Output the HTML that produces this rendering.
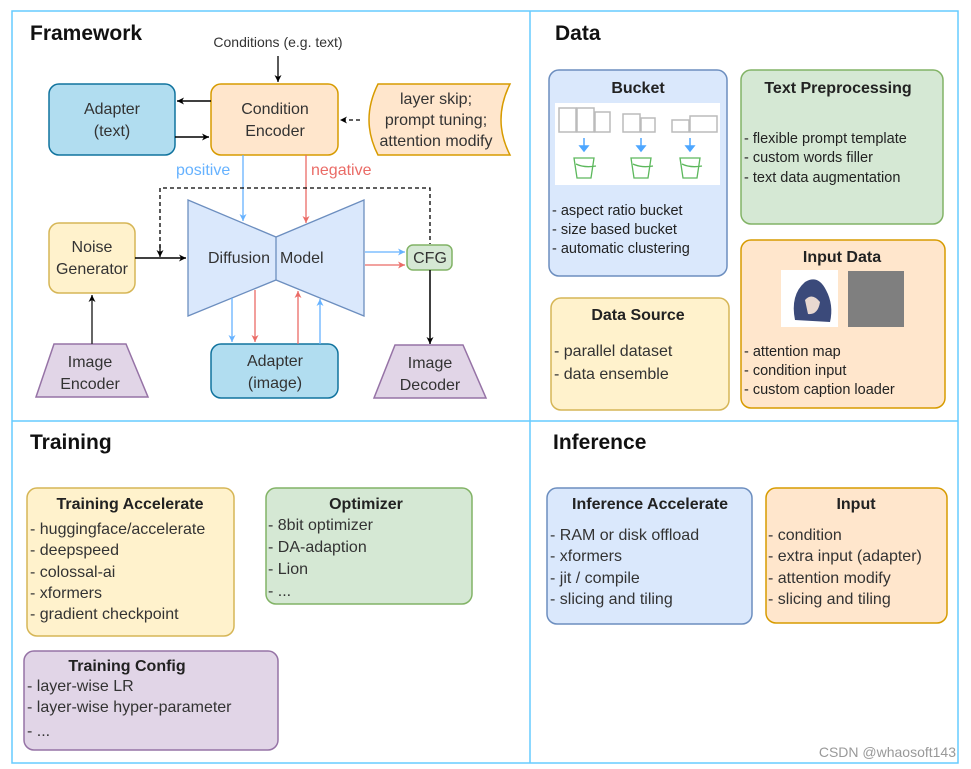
<!DOCTYPE html>
<html><head><meta charset="utf-8"><style>
html,body{margin:0;padding:0;background:#fff;}
svg{display:block;font-family:"Liberation Sans",sans-serif;}
.t{font-size:16px;fill:#333;}
.s{font-size:14.5px;fill:#222;}
.h{font-size:16px;font-weight:bold;fill:#222;}
.big{font-size:21px;font-weight:bold;fill:#111;}
</style></head><body>
<svg width="971" height="769" viewBox="0 0 971 769">
<defs>
<marker id="ak" markerWidth="8" markerHeight="8" refX="7" refY="4" orient="auto" markerUnits="userSpaceOnUse"><path d="M0,0.5 L7,4 L0,7.5 L2,4z" fill="#000"/></marker>
<marker id="ab" markerWidth="8" markerHeight="8" refX="7" refY="4" orient="auto" markerUnits="userSpaceOnUse"><path d="M0,0.5 L7,4 L0,7.5 L2,4z" fill="#66b2ff"/></marker>
<marker id="ar" markerWidth="8" markerHeight="8" refX="7" refY="4" orient="auto" markerUnits="userSpaceOnUse"><path d="M0,0.5 L7,4 L0,7.5 L2,4z" fill="#ea6b66"/></marker>
</defs>
<!-- frame -->
<rect x="12" y="11" width="946" height="752" fill="none" stroke="#66ccff" stroke-width="1.5"/>
<line x1="530" y1="11" x2="530" y2="763" stroke="#66ccff" stroke-width="1.5"/>
<line x1="12" y1="421" x2="958" y2="421" stroke="#66ccff" stroke-width="1.5"/>

<!-- Framework -->
<text x="30" y="40" class="big">Framework</text>
<text x="278" y="47" text-anchor="middle" style="font-size:14px;fill:#333">Conditions (e.g. text)</text>
<line x1="278" y1="56" x2="278" y2="82" stroke="#000" stroke-width="1.3" marker-end="url(#ak)"/>
<rect x="49" y="84" width="126" height="71" rx="10" fill="#b1ddf0" stroke="#10739e" stroke-width="1.5"/>
<text x="112" y="114" text-anchor="middle" class="t">Adapter</text>
<text x="112" y="136" text-anchor="middle" class="t">(text)</text>
<rect x="211" y="84" width="127" height="71" rx="10" fill="#ffe6cc" stroke="#d79b00" stroke-width="1.5"/>
<text x="275" y="114" text-anchor="middle" class="t">Condition</text>
<text x="275" y="136" text-anchor="middle" class="t">Encoder</text>
<path d="M378,84 L510,84 Q492,120 510,155 L378,155 Q360,120 378,84z" fill="#ffe6cc" stroke="#d79b00" stroke-width="1.5"/>
<text x="436" y="104" text-anchor="middle" class="t">layer skip;</text>
<text x="436" y="125" text-anchor="middle" class="t">prompt tuning;</text>
<text x="436" y="146" text-anchor="middle" class="t">attention modify</text>
<line x1="360" y1="120" x2="340" y2="120" stroke="#000" stroke-width="1.3" stroke-dasharray="4,3" marker-end="url(#ak)"/>
<line x1="211" y1="101" x2="177" y2="101" stroke="#000" stroke-width="1.5" marker-end="url(#ak)"/>
<line x1="175" y1="137" x2="209" y2="137" stroke="#000" stroke-width="1.5" marker-end="url(#ak)"/>
<text x="176" y="175" style="font-size:16px;fill:#66b2ff">positive</text>
<text x="311" y="175" style="font-size:16px;fill:#ea6b66">negative</text>
<line x1="243" y1="155" x2="243" y2="221" stroke="#66b2ff" stroke-width="1.3" marker-end="url(#ab)"/>
<line x1="306" y1="155" x2="306" y2="223" stroke="#ea6b66" stroke-width="1.3" marker-end="url(#ar)"/>
<path d="M160,255 L160,188 L430,188 L430,244" fill="none" stroke="#000" stroke-width="1.3" stroke-dasharray="4,3"/>
<line x1="160" y1="245" x2="160" y2="257" stroke="#000" stroke-width="1.3" marker-end="url(#ak)"/>
<path d="M188,200 L276,237 L364,200 L364,316 L276,280 L188,316z" fill="#dae8fc" stroke="#6c8ebf" stroke-width="1.3"/>
<line x1="276" y1="237" x2="276" y2="280" stroke="#6c8ebf" stroke-width="1.3"/>
<text x="208" y="263" class="t">Diffusion</text>
<text x="280" y="263" class="t">Model</text>
<rect x="49" y="223" width="86" height="70" rx="10" fill="#fff2cc" stroke="#d6b656" stroke-width="1.5"/>
<text x="92" y="252" text-anchor="middle" class="t">Noise</text>
<text x="92" y="274" text-anchor="middle" class="t">Generator</text>
<line x1="135" y1="258" x2="186" y2="258" stroke="#000" stroke-width="1.5" marker-end="url(#ak)"/>
<rect x="407" y="245" width="45" height="25" rx="6" fill="#d5e8d4" stroke="#82b366" stroke-width="1.5"/>
<text x="430" y="263" text-anchor="middle" class="t">CFG</text>
<line x1="365" y1="252" x2="405" y2="252" stroke="#66b2ff" stroke-width="1.3" marker-end="url(#ab)"/>
<line x1="365" y1="265" x2="405" y2="265" stroke="#ea6b66" stroke-width="1.3" marker-end="url(#ar)"/>
<line x1="430" y1="270" x2="430" y2="344" stroke="#000" stroke-width="1.5" marker-end="url(#ak)"/>
<path d="M395,345 L463,345 L486,398 L374,398z" fill="#e1d5e7" stroke="#9673a6" stroke-width="1.5"/>
<text x="430" y="368" text-anchor="middle" class="t">Image</text>
<text x="430" y="390" text-anchor="middle" class="t">Decoder</text>
<path d="M54,344 L126,344 L148,397 L36,397z" fill="#e1d5e7" stroke="#9673a6" stroke-width="1.5"/>
<text x="90" y="367" text-anchor="middle" class="t">Image</text>
<text x="90" y="389" text-anchor="middle" class="t">Encoder</text>
<line x1="92" y1="344" x2="92" y2="295" stroke="#333" stroke-width="1.5" marker-end="url(#ak)"/>
<rect x="211" y="344" width="127" height="54" rx="10" fill="#b1ddf0" stroke="#10739e" stroke-width="1.5"/>
<text x="275" y="366" text-anchor="middle" class="t">Adapter</text>
<text x="275" y="388" text-anchor="middle" class="t">(image)</text>
<line x1="232" y1="298" x2="232" y2="342" stroke="#66b2ff" stroke-width="1.3" marker-end="url(#ab)"/>
<line x1="255" y1="290" x2="255" y2="342" stroke="#ea6b66" stroke-width="1.3" marker-end="url(#ar)"/>
<line x1="298" y1="344" x2="298" y2="291" stroke="#ea6b66" stroke-width="1.3" marker-end="url(#ar)"/>
<line x1="320" y1="344" x2="320" y2="299" stroke="#66b2ff" stroke-width="1.3" marker-end="url(#ab)"/>

<!-- Data -->
<text x="555" y="40" class="big">Data</text>
<rect x="549" y="70" width="178" height="206" rx="10" fill="#dae8fc" stroke="#6c8ebf" stroke-width="1.5"/>
<text x="638" y="93" text-anchor="middle" class="h">Bucket</text>
<rect x="555" y="103" width="165" height="82" fill="#fff"/>
<g fill="none" stroke="#bbb" stroke-width="1.5">
<rect x="559" y="108" width="17" height="24"/><rect x="577" y="108" width="17" height="24"/><rect x="595" y="112" width="15" height="20"/>
<rect x="623" y="114" width="17" height="18"/><rect x="641" y="118" width="14" height="14"/>
<rect x="672" y="120" width="17" height="12"/><rect x="690" y="116" width="27" height="16"/>
</g>
<g stroke="#4da6ff" stroke-width="1.5" fill="#4da6ff">
<line x1="584" y1="138" x2="584" y2="148"/><path d="M580,146 L588,146 L584,151z"/>
<line x1="641" y1="138" x2="641" y2="148"/><path d="M637,146 L645,146 L641,151z"/>
<line x1="690" y1="138" x2="690" y2="148"/><path d="M686,146 L694,146 L690,151z"/>
</g>
<g fill="none" stroke="#5cb85c" stroke-width="1.3">
<path d="M574,158 L594,158 L591,178 L577,178z"/><path d="M576,164 Q584,168 596,166"/>
<path d="M631,158 L651,158 L648,178 L634,178z"/><path d="M633,164 Q641,168 653,166"/>
<path d="M680,158 L700,158 L697,178 L683,178z"/><path d="M682,164 Q690,168 702,166"/>
</g>
<text x="552" y="215" class="s">- aspect ratio bucket</text>
<text x="552" y="234" class="s">- size based bucket</text>
<text x="552" y="253" class="s">- automatic clustering</text>

<rect x="741" y="70" width="202" height="154" rx="10" fill="#d5e8d4" stroke="#82b366" stroke-width="1.5"/>
<text x="838" y="93" text-anchor="middle" class="h">Text Preprocessing</text>
<text x="744" y="143" class="s">- flexible prompt template</text>
<text x="744" y="162" class="s">- custom words filler</text>
<text x="744" y="182" class="s">- text data augmentation</text>

<rect x="741" y="240" width="204" height="168" rx="10" fill="#ffe6cc" stroke="#d79b00" stroke-width="1.5"/>
<text x="842" y="262" text-anchor="middle" class="h">Input Data</text>
<rect x="781" y="270" width="57" height="57" fill="#fff"/>
<path d="M795,320 Q790,295 805,282 Q818,274 826,290 Q834,305 830,322z" fill="#3b4a7a"/>
<path d="M805,300 Q812,292 820,302 Q818,315 808,314z" fill="#e8d8d0"/>
<rect x="848" y="271" width="56" height="56" fill="#7f7f7f"/>
<text x="744" y="356" class="s">- attention map</text>
<text x="744" y="375" class="s">- condition input</text>
<text x="744" y="394" class="s">- custom caption loader</text>

<rect x="551" y="298" width="178" height="112" rx="10" fill="#fff2cc" stroke="#d6b656" stroke-width="1.5"/>
<text x="638" y="320" text-anchor="middle" class="h">Data Source</text>
<text x="554" y="356" class="t">- parallel dataset</text>
<text x="554" y="379" class="t">- data ensemble</text>

<!-- Training -->
<text x="30" y="449" class="big">Training</text>
<rect x="27" y="488" width="207" height="148" rx="10" fill="#fff2cc" stroke="#d6b656" stroke-width="1.5"/>
<text x="130" y="509" text-anchor="middle" class="h">Training Accelerate</text>
<text x="30" y="534" class="t">- huggingface/accelerate</text>
<text x="30" y="555" class="t">- deepspeed</text>
<text x="30" y="577" class="t">- colossal-ai</text>
<text x="30" y="598" class="t">- xformers</text>
<text x="30" y="619" class="t">- gradient checkpoint</text>
<rect x="266" y="488" width="206" height="116" rx="10" fill="#d5e8d4" stroke="#82b366" stroke-width="1.5"/>
<text x="366" y="509" text-anchor="middle" class="h">Optimizer</text>
<text x="268" y="530" class="t">- 8bit optimizer</text>
<text x="268" y="552" class="t">- DA-adaption</text>
<text x="268" y="574" class="t">- Lion</text>
<text x="268" y="596" class="t">- ...</text>
<rect x="24" y="651" width="254" height="99" rx="10" fill="#e1d5e7" stroke="#9673a6" stroke-width="1.5"/>
<text x="127" y="671" text-anchor="middle" class="h">Training Config</text>
<text x="27" y="691" class="t">- layer-wise LR</text>
<text x="27" y="712" class="t">- layer-wise hyper-parameter</text>
<text x="27" y="736" class="t">- ...</text>

<!-- Inference -->
<text x="553" y="449" class="big">Inference</text>
<rect x="547" y="488" width="205" height="136" rx="10" fill="#dae8fc" stroke="#6c8ebf" stroke-width="1.5"/>
<text x="650" y="509" text-anchor="middle" class="h">Inference Accelerate</text>
<text x="550" y="540" class="t">- RAM or disk offload</text>
<text x="550" y="561" class="t">- xformers</text>
<text x="550" y="583" class="t">- jit / compile</text>
<text x="550" y="604" class="t">- slicing and tiling</text>
<rect x="766" y="488" width="181" height="135" rx="10" fill="#ffe6cc" stroke="#d79b00" stroke-width="1.5"/>
<text x="856" y="509" text-anchor="middle" class="h">Input</text>
<text x="768" y="540" class="t">- condition</text>
<text x="768" y="561" class="t">- extra input (adapter)</text>
<text x="768" y="583" class="t">- attention modify</text>
<text x="768" y="604" class="t">- slicing and tiling</text>
<text x="956" y="757" text-anchor="end" style="font-size:14px;fill:#999">CSDN @whaosoft143</text>
</svg>
</body></html>
